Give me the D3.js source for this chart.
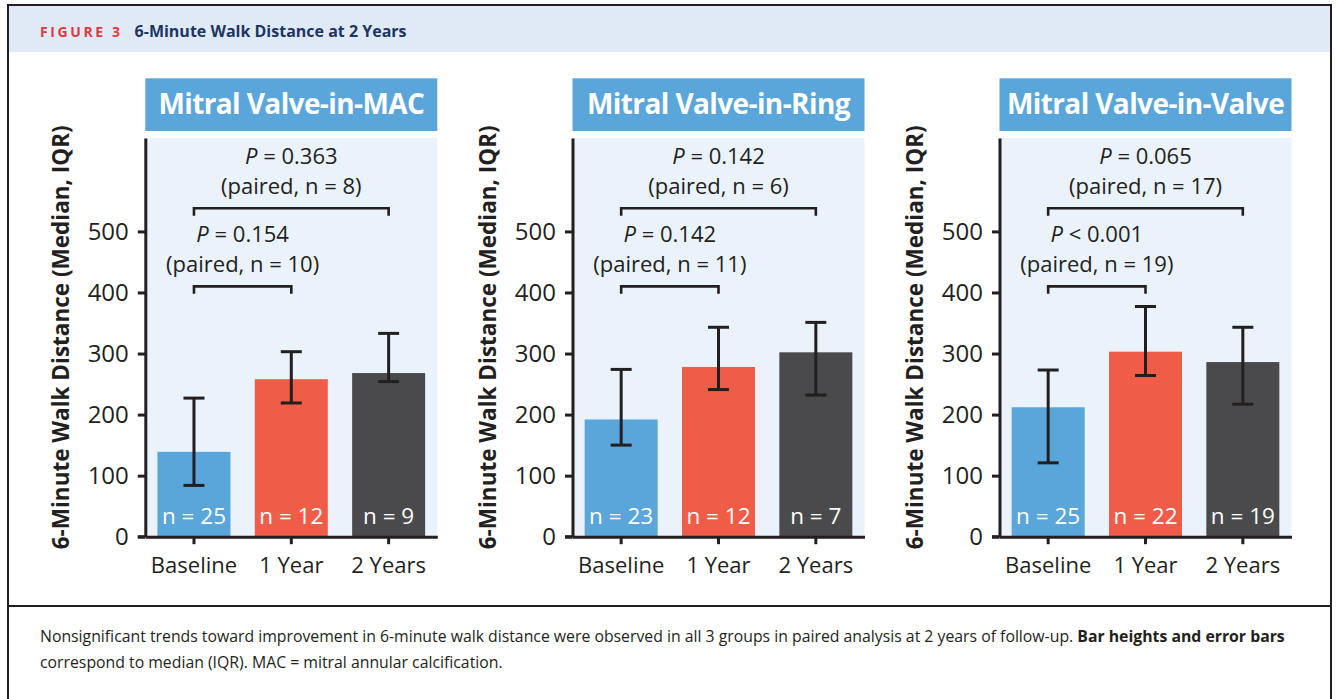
<!DOCTYPE html>
<html>
<head>
<meta charset="utf-8">
<script src="https://cdn.jsdelivr.net/npm/d3@7"></script>
<style>
  html, body { margin: 0; padding: 0; background: #ffffff; }
  svg { display: block; }
  text { font-family: "Open Sans", "Noto Sans", sans-serif; }
</style>
</head>
<body>
<svg id="fig" width="1336" height="699"></svg>
<script>
// ---- data ----
const categories = ["Baseline", "1 Year", "2 Years"];
const panelTitles = ["Mitral Valve-in-MAC", "Mitral Valve-in-Ring", "Mitral Valve-in-Valve"];
const yTicks = [0, 100, 200, 300, 400, 500];

// median 6-minute walk distance (m) per panel, per time point
const medians = [
  [139, 258, 268],
  [192, 278, 302],
  [212, 303, 286]
];
// interquartile range bounds
const iqrLow = [
  [84, 219, 254],
  [150, 241, 232],
  [121, 264, 217]
];
const iqrHigh = [
  [227, 303, 333],
  [274, 343, 351],
  [273, 377, 343]
];
// patients per time point
const sampleSizes = [
  [25, 12, 9],
  [23, 12, 7],
  [25, 22, 19]
];
// paired comparisons: baseline vs 1 year, baseline vs 2 years
const pOneYearOp = ["=", "=", "<"];
const pOneYearVal = ["0.154", "0.142", "0.001"];
const pairedOneYear = [10, 11, 19];
const pTwoYearOp = ["=", "=", "="];
const pTwoYearVal = ["0.363", "0.142", "0.065"];
const pairedTwoYear = [8, 6, 17];

const yAxisTitle = "6-Minute Walk Distance (Median, IQR)";
const barColors = ["#5aa6da", "#ef5d48", "#4a4a4c"];

// ---- layout ----
const svg = d3.select("#fig");
const ink = "#231f20";
const panelLeft = [145.3, 572.5, 999.5];
const panelW = 292;
const plotTop = 138;
const plotBottom = 536.7;

// outer frame and header band
svg.append("rect").attr("x", 9).attr("y", 6).attr("width", 1321).attr("height", 46).attr("fill", "#dfeaf6");
svg.append("rect").attr("x", 8).attr("y", 5).attr("width", 1323).attr("height", 700)
  .attr("fill", "none").attr("stroke", ink).attr("stroke-width", 2);
svg.append("line").attr("x1", 8).attr("x2", 1331).attr("y1", 606).attr("y2", 606)
  .attr("stroke", ink).attr("stroke-width", 2);

const head = svg.append("text").attr("x", 40).attr("y", 36.7).attr("font-weight", 700);
head.append("tspan").attr("fill", "#e2373d").attr("font-size", 14).attr("letter-spacing", 2.6).text("FIGURE 3");
head.append("tspan").attr("dx", 12).attr("fill", "#1d3563").attr("font-size", 16).attr("letter-spacing", 0).text("6-Minute Walk Distance at 2 Years");

// caption
const capSize = 15.8;
const cap1 = svg.append("text").attr("x", 40).attr("y", 642).attr("font-size", capSize).attr("fill", ink);
cap1.append("tspan").text("Nonsignificant trends toward improvement in 6-minute walk distance were observed in all 3 groups in paired analysis at 2 years of follow-up. ");
cap1.append("tspan").attr("font-weight", 700).text("Bar heights and error bars");
svg.append("text").attr("x", 40).attr("y", 668).attr("font-size", capSize).attr("fill", ink)
  .text("correspond to median (IQR). MAC = mitral annular calcification.");

const y = d3.scaleLinear().domain([0, 653]).range([plotBottom, plotTop]);

panelTitles.forEach((title, p) => {
  const x0 = panelLeft[p];
  const g = svg.append("g").attr("transform", `translate(${x0},0)`);
  const x = d3.scaleBand().domain(categories).range([0, panelW]).paddingInner(0.25).paddingOuter(0.125);

  // title box
  g.append("rect").attr("x", 0).attr("y", 78.3).attr("width", panelW).attr("height", 52.7).attr("fill", "#5aa6da");
  g.append("text").attr("x", panelW / 2).attr("y", 113.5).attr("text-anchor", "middle")
    .attr("fill", "#ffffff").attr("font-weight", 700).attr("font-size", 28).attr("letter-spacing", -0.6).text(title);

  // plot background
  g.append("rect").attr("x", 0).attr("y", plotTop).attr("width", panelW).attr("height", plotBottom - plotTop)
    .attr("fill", "#eaf2fb");

  // bars
  g.selectAll("rect.bar").data(categories).join("rect").attr("class", "bar")
    .attr("x", d => x(d)).attr("width", x.bandwidth())
    .attr("y", (d, i) => y(medians[p][i]))
    .attr("height", (d, i) => y(0) - y(medians[p][i]))
    .attr("fill", (d, i) => barColors[i]);

  // n labels inside bars
  g.selectAll("text.n").data(categories).join("text").attr("class", "n")
    .attr("x", d => x(d) + x.bandwidth() / 2).attr("y", 524)
    .attr("text-anchor", "middle").attr("fill", "#ffffff").attr("font-size", 22.5)
    .text((d, i) => "n = " + sampleSizes[p][i]);

  // IQR whiskers
  const capHalf = 10.5;
  categories.forEach((c, i) => {
    const cx = x(c) + x.bandwidth() / 2;
    const eg = g.append("g").attr("stroke", ink).attr("stroke-width", 3).attr("fill", "none");
    eg.append("line").attr("x1", cx).attr("x2", cx).attr("y1", y(iqrLow[p][i])).attr("y2", y(iqrHigh[p][i]));
    eg.append("line").attr("x1", cx - capHalf).attr("x2", cx + capHalf).attr("y1", y(iqrLow[p][i])).attr("y2", y(iqrLow[p][i]));
    eg.append("line").attr("x1", cx - capHalf).attr("x2", cx + capHalf).attr("y1", y(iqrHigh[p][i])).attr("y2", y(iqrHigh[p][i]));
  });

  // axes
  const yAxis = g.append("g").call(d3.axisLeft(y).tickValues(yTicks).tickSize(7.5).tickSizeOuter(0).tickPadding(9));
  const xAxis = g.append("g").attr("transform", `translate(0,${plotBottom})`)
    .call(d3.axisBottom(x).tickSize(7.5).tickSizeOuter(0).tickPadding(13.5));
  [yAxis, xAxis].forEach(ax => {
    ax.select(".domain").attr("stroke", ink).attr("stroke-width", 3);
    ax.selectAll(".tick line").attr("stroke", ink).attr("stroke-width", 3);
    ax.selectAll(".tick text").attr("fill", ink).attr("font-family", "\"Open Sans\", sans-serif");
  });
  yAxis.selectAll(".tick text").attr("font-size", 24);
  xAxis.selectAll(".tick text").attr("font-size", 22);
  g.append("line").attr("x1", -7.5).attr("x2", 0).attr("y1", plotBottom).attr("y2", plotBottom)
    .attr("stroke", ink).attr("stroke-width", 3);

  // y-axis title
  g.append("text").attr("transform", `translate(-84,${(plotTop + plotBottom) / 2}) rotate(-90)`)
    .attr("text-anchor", "middle").attr("dy", "0.35em").attr("font-weight", 700).attr("font-size", 22.5)
    .attr("fill", ink).text(yAxisTitle);

  // comparison brackets with two-line labels
  const cBase = x(categories[0]) + x.bandwidth() / 2;
  const c1 = x(categories[1]) + x.bandwidth() / 2;
  const c2 = x(categories[2]) + x.bandwidth() / 2;
  const legH = 7.5;
  const brackets = [
    { from: cBase, to: c1, level: 410, op: pOneYearOp[p], val: pOneYearVal[p], n: pairedOneYear[p] },
    { from: cBase, to: c2, level: 538, op: pTwoYearOp[p], val: pTwoYearVal[p], n: pairedTwoYear[p] }
  ];
  brackets.forEach(b => {
    const by = y(b.level);
    g.append("path")
      .attr("d", `M${b.from},${by + legH}V${by}H${b.to}V${by + legH}`)
      .attr("fill", "none").attr("stroke", ink).attr("stroke-width", 2.6);
    const mid = (b.from + b.to) / 2;
    const t = g.append("text").attr("x", mid).attr("y", by - 44.5).attr("text-anchor", "middle")
      .attr("font-size", 22).attr("fill", ink);
    t.append("tspan").attr("font-style", "italic").text("P");
    t.append("tspan").text(" " + b.op + " " + b.val);
    g.append("text").attr("x", mid).attr("y", by - 14.5).attr("text-anchor", "middle")
      .attr("font-size", 22).attr("fill", ink).text(`(paired, n = ${b.n})`);
  });
});
</script>
</body>
</html>
